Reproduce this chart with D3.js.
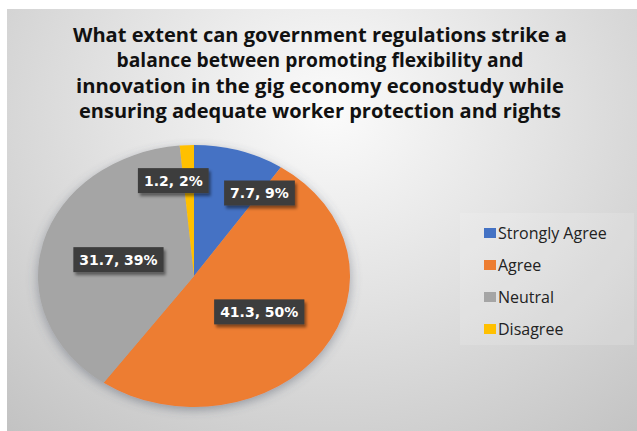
<!DOCTYPE html>
<html>
<head>
<meta charset="utf-8">
<script src="https://cdn.jsdelivr.net/npm/d3@7"></script>
<style>
  html, body { margin: 0; padding: 0; background: #ffffff; }
  svg { display: block; }
</style>
</head>
<body>
<svg id="chart" width="637" height="431"></svg>
<script>
// Survey responses
const categories = ["Strongly Agree", "Agree", "Neutral", "Disagree"];
const values = [7.7, 41.3, 31.7, 1.2];
const percentLabels = ["9%", "50%", "39%", "2%"];
const titleLines = [
  "What extent can government regulations strike a",
  "balance between promoting flexibility and",
  "innovation in the gig economy econostudy while",
  "ensuring adequate worker protection and rights"
];

const W = 637, H = 431;
const colors = d3.scaleOrdinal()
  .domain(categories)
  .range(["#4472C4", "#ED7D31", "#A5A5A5", "#FFC000"]);

const svg = d3.select("#chart");
const defs = svg.append("defs");

// panel background
const bg = defs.append("radialGradient").attr("id", "bg")
  .attr("gradientUnits", "userSpaceOnUse")
  .attr("cx", 330).attr("cy", 110).attr("r", 430)
  .attr("gradientTransform", "translate(330,110) scale(1.15,1) translate(-330,-110)");
bg.append("stop").attr("offset", 0).attr("stop-color", "#fbfbfb");
bg.append("stop").attr("offset", 0.45).attr("stop-color", "#e2e2e2");
bg.append("stop").attr("offset", 1).attr("stop-color", "#c2c2c2");

const pieShadow = defs.append("filter").attr("id", "pieShadow")
  .attr("x", "-20%").attr("y", "-20%").attr("width", "140%").attr("height", "140%");
pieShadow.append("feDropShadow").attr("dx", 0).attr("dy", 3)
  .attr("stdDeviation", 5).attr("flood-color", "#4a5566").attr("flood-opacity", 0.45);

const boxShadow = defs.append("filter").attr("id", "boxShadow")
  .attr("x", "-20%").attr("y", "-30%").attr("width", "140%").attr("height", "170%");
boxShadow.append("feDropShadow").attr("dx", 2).attr("dy", 3)
  .attr("stdDeviation", 1.6).attr("flood-color", "#000").attr("flood-opacity", 0.45);

svg.append("rect").attr("x", 7).attr("y", 9)
  .attr("width", W - 7).attr("height", H - 9).attr("fill", "url(#bg)");

// title
const titleWidths = [494, 407, 488, 482];
svg.append("g").selectAll("text").data(titleLines).join("text")
  .attr("x", 320)
  .attr("y", (d, i) => 42 + i * 25.4)
  .attr("text-anchor", "middle")
  .attr("font-family", "'Open Sans', Lato, sans-serif")
  .attr("font-weight", "bold")
  .attr("font-size", 19.5)
  .attr("fill", "#111")
  .attr("textLength", (d, i) => titleWidths[i])
  .attr("lengthAdjust", "spacingAndGlyphs")
  .text(d => d);

// pie (drawn as a circle then stretched horizontally into an ellipse)
const cx = 194, cy = 276, ry = 131, rx = 156;
const sx = rx / ry;
const pie = d3.pie().sort(null).value(d => d.value);
const data = pie(categories.map((c, i) => ({ cat: c, value: values[i], pct: percentLabels[i] })));
const arc = d3.arc().innerRadius(0).outerRadius(ry);

svg.append("g")
  .attr("transform", `translate(${cx},${cy}) scale(${sx},1)`)
  .attr("filter", "url(#pieShadow)")
  .selectAll("path").data(data).join("path")
  .attr("d", arc)
  .attr("fill", d => colors(d.data.cat));

// data labels: radius fraction and angular nudge per slice (best-fit placement)
const labelPlacement = [
  { r: 0.76, shift: 16.6 },
  { r: 0.50, shift: -1.4 },
  { r: 0.50, shift: -0.6 },
  { r: 0.74, shift: -7.7 }
];
const labels = svg.append("g");
data.forEach((d, i) => {
  const p = labelPlacement[i];
  const a = (d.startAngle + d.endAngle) / 2 + p.shift * Math.PI / 180;
  const x = cx + Math.sin(a) * ry * p.r * sx;
  const y = cy - Math.cos(a) * ry * p.r;
  const g = labels.append("g").attr("transform", `translate(${x},${y})`);
  const rect = g.append("rect").attr("fill", "#3d3d3d").attr("filter", "url(#boxShadow)");
  const t = g.append("text")
    .attr("text-anchor", "middle")
    .attr("dy", "0.37em")
    .attr("font-family", "'DejaVu Sans', Verdana, sans-serif")
    .attr("font-weight", "bold")
    .attr("font-size", 14)
    .attr("fill", "#ffffff")
    .text(`${d.data.value}, ${d.data.pct}`);
  const w = t.node().getComputedTextLength() + 12;
  const h = 25;
  rect.attr("x", -w / 2).attr("y", -h / 2).attr("width", w).attr("height", h);
});

// legend
const legend = svg.append("g");
legend.append("rect").attr("x", 460).attr("y", 213).attr("width", 174).attr("height", 132)
  .attr("fill", "#ffffff").attr("fill-opacity", 0.14);
const y = d3.scalePoint().domain(categories).range([233, 329]);
const items = legend.selectAll("g.item").data(categories).join("g")
  .attr("class", "item")
  .attr("transform", d => `translate(484,${y(d)})`);
items.append("rect").attr("x", 0).attr("y", -5).attr("width", 12).attr("height", 10)
  .attr("fill", d => colors(d));
items.append("text").attr("x", 14).attr("dy", "0.36em")
  .attr("font-family", "'Open Sans', Lato, sans-serif")
  .attr("font-size", 16)
  .attr("fill", "#222")
  .text(d => d);
</script>
</body>
</html>
